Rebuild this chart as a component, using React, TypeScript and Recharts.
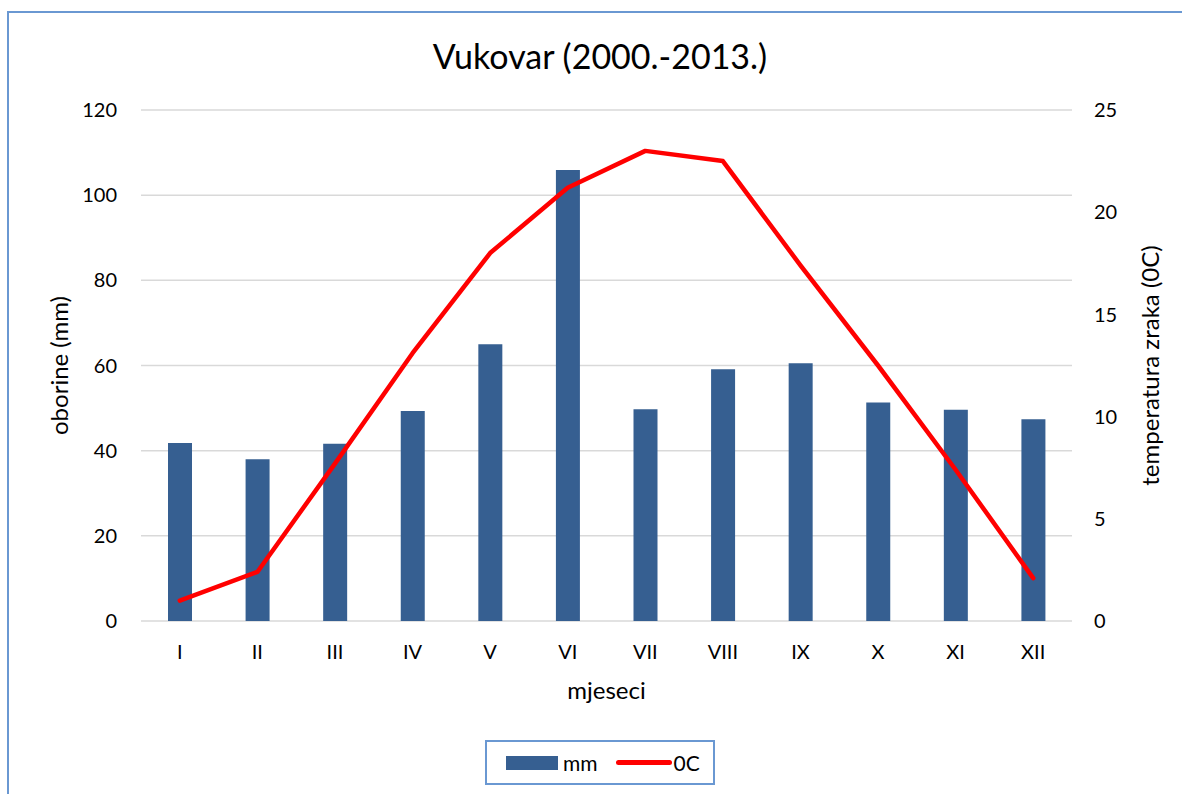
import React from 'react';
import { ComposedChart, Bar, Line, XAxis, YAxis, CartesianGrid, Legend } from 'recharts';

const months = ['I', 'II', 'III', 'IV', 'V', 'VI', 'VII', 'VIII', 'IX', 'X', 'XI', 'XII'];
const precipitation = [41.8, 38.0, 41.6, 49.3, 65.0, 105.9, 49.7, 59.1, 60.5, 51.3, 49.6, 47.4];
const temperature = [1.0, 2.4, 7.7, 13.1, 18.0, 21.2, 23.0, 22.5, 17.4, 12.5, 7.4, 2.1];
const leftTicks = [0, 20, 40, 60, 80, 100, 120];
const rightTicks = [0, 5, 10, 15, 20, 25];

const data = months.map((m, i) => ({ month: m, mm: precipitation[i], t: temperature[i] }));

const FONT = 'Lato, "Open Sans", sans-serif';
const BAR_COLOR = '#365f91';
const LINE_COLOR = '#ff0000';
const FRAME = '#6a98d2';

const tickStyle = { fill: '#000', fontSize: 20, fontFamily: FONT };
const labelStyle = { fontSize: 24, fontFamily: FONT, fill: '#000' };

const renderLegend = (props: any) => {
  const payload = [...(props.payload || [])].sort(
    (a: any, b: any) => (a.type === 'line' ? 1 : 0) - (b.type === 'line' ? 1 : 0)
  );
  return (
    <div style={{ display: 'flex', alignItems: 'center', height: '100%', paddingLeft: 19, fontFamily: FONT, fontSize: 21, color: '#000' }}>
      {payload.map((entry: any, i: number) => (
        <div key={i} style={{ display: 'flex', alignItems: 'center', marginLeft: i === 0 ? 0 : 18 }}>
          {entry.type === 'line' ? (
            <div style={{ width: 56, height: 5, borderRadius: 3, background: entry.color, marginRight: 2 }} />
          ) : (
            <div style={{ width: 52, height: 14, background: entry.color, marginRight: 5 }} />
          )}
          <span>{entry.value}</span>
        </div>
      ))}
    </div>
  );
};

export default function App() {
  return (
    <div>
      <div
        style={{
          position: 'absolute',
          left: 7,
          top: 11,
          width: 1175,
          height: 783,
          boxSizing: 'border-box',
          borderLeft: `2px solid ${FRAME}`,
          borderTop: `2px solid ${FRAME}`,
        }}
      />
      <div
        style={{
          position: 'absolute',
          left: 0,
          top: 35,
          width: 1200,
          textAlign: 'center',
          fontFamily: FONT,
          fontSize: 34,
          color: '#000',
          lineHeight: '42px',
        }}
      >
        Vukovar (2000.-2013.)
      </div>
      <div style={{ position: 'absolute', left: 0, top: 0 }}>
        <ComposedChart
          width={1182}
          height={794}
          data={data}
          margin={{ top: 110, right: 0, bottom: 93, left: 0 }}
          style={{ fontFamily: FONT }}
        >
          <CartesianGrid yAxisId="left" vertical={false} stroke="#d9d9d9" strokeWidth={1.5} />
          <XAxis
            dataKey="month"
            height={80}
            axisLine={false}
            tickLine={false}
            tickSize={0}
            tickMargin={24}
            tick={tickStyle}
            interval={0}
            label={{ value: 'mjeseci', position: 'insideBottom', offset: 2, style: labelStyle }}
          />
          <YAxis
            yAxisId="left"
            orientation="left"
            width={141}
            domain={[0, 120]}
            ticks={leftTicks}
            axisLine={false}
            tickLine={false}
            tickSize={0}
            tickMargin={24}
            tick={tickStyle}
            label={{ value: 'oborine (mm)', angle: -90, position: 'insideLeft', offset: 59, style: { ...labelStyle, textAnchor: 'middle' } }}
          />
          <YAxis
            yAxisId="right"
            orientation="right"
            width={110}
            domain={[0, 25]}
            ticks={rightTicks}
            axisLine={false}
            tickLine={false}
            tickSize={0}
            tickMargin={22}
            tick={tickStyle}
            label={{ value: 'temperatura zraka (0C)', angle: -90, position: 'insideRight', offset: 32, style: { ...labelStyle, textAnchor: 'middle' } }}
          />
          <Legend
            layout="horizontal"
            verticalAlign="middle"
            align="center"
            content={renderLegend}
            wrapperStyle={{ left: 485, top: 740, width: 230, height: 45, border: `2px solid ${FRAME}`, boxSizing: 'border-box', background: '#fff' }}
          />
          <Bar yAxisId="left" dataKey="mm" name="mm" fill={BAR_COLOR} barSize={24} isAnimationActive={false} legendType="rect" />
          <Line
            yAxisId="right"
            dataKey="t"
            name="0C"
            type="linear"
            stroke={LINE_COLOR}
            strokeWidth={4.5}
            strokeLinecap="round"
            strokeLinejoin="round"
            dot={false}
            activeDot={false}
            isAnimationActive={false}
            legendType="line"
          />
        </ComposedChart>
      </div>
    </div>
  );
}
